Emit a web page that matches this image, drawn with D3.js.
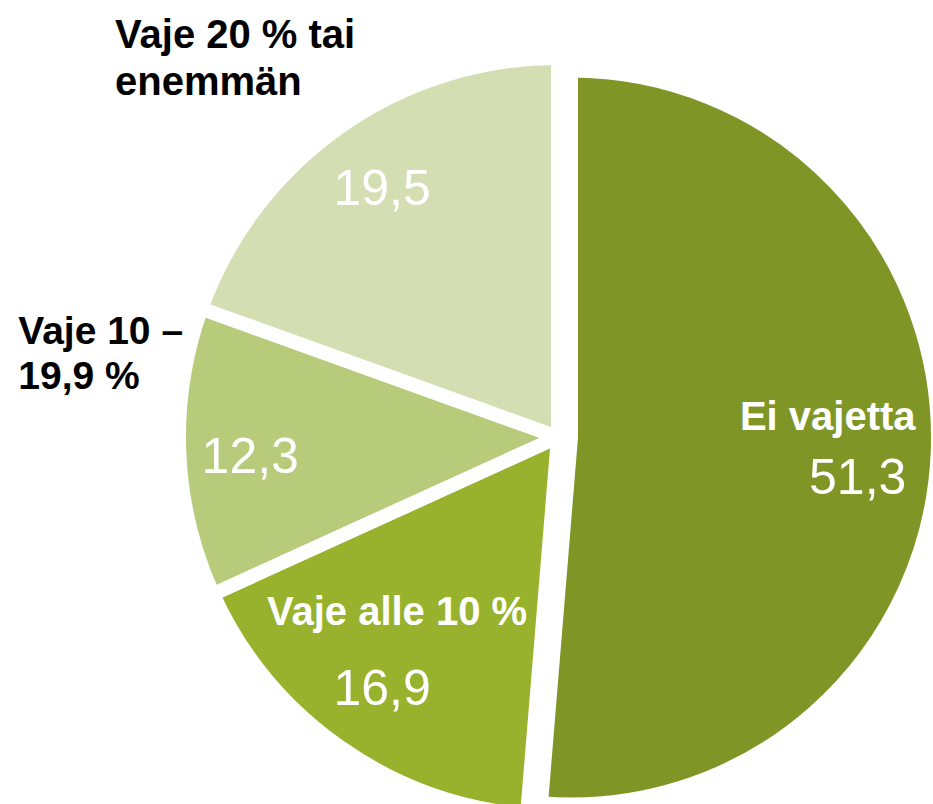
<!DOCTYPE html>
<html>
<head>
<meta charset="utf-8">
<script src="https://cdn.jsdelivr.net/npm/d3@7/dist/d3.min.js"></script>
<style>
  body { margin: 0; background: #fff; }
  text { font-family: "Liberation Sans", Arial, sans-serif; }
</style>
</head>
<body>
<svg width="933" height="804"></svg>
<script>
// data
const categories = ['Ei vajetta', 'Vaje alle 10 %', 'Vaje 10 –\n19,9 %', 'Vaje 20 % tai\nenemmän'];
const values = [51.3, 16.9, 12.3, 19.5];
const colors = ['#7f9627', '#99b22d', '#b8cb7a', '#d3deb2'];

const svg = d3.select('svg');
const width = +svg.attr('width');
const height = +svg.attr('height');

const cx = 558;
const cy = 437;
const radius = 379;
const bigRadius = 367;   // the exploded slice is drawn a bit smaller
const explode = 13;
const labelR = 306;

// label tweaks, relative to the label centroid
const numOffsets = [[-19, 26], [0, 0], [-2, 5], [0, 0]];
const nameOffsets = [[-30, -60], [15, -77], [-232, -125], [-267, -153]];
const nameSizes = [40, 40, 39, 40];
const nameInside = [true, true, false, false];

const fmt = v => d3.format('.1f')(v).replace('.', ',');

const pie = d3.pie().sort(null).value(d => d);
const arcs = pie(values);

const arc = d3.arc().innerRadius(0);
const labelArc = d3.arc().innerRadius(labelR).outerRadius(labelR);

const g = svg.append('g')
    .attr('transform', `translate(${cx}, ${cy})`);

const shift = (d, i) => {
  if (i !== 0) return [0, 0];
  const a = (d.startAngle + d.endAngle) / 2;
  return [explode * Math.sin(a), -explode * Math.cos(a)];
};

const slices = g.selectAll('g.slice')
  .data(arcs)
  .join('g')
    .attr('class', 'slice')
    .attr('transform', (d, i) => `translate(${shift(d, i)})`);

slices.append('path')
    .attr('d', (d, i) => arc.outerRadius(i === 0 ? bigRadius : radius)(d))
    .attr('fill', (d, i) => colors[i])
    .attr('stroke', '#fff')
    .attr('stroke-width', 14)
    .attr('stroke-linejoin', 'miter');

// value labels
slices.append('text')
    .attr('x', (d, i) => labelArc.centroid(d)[0] + numOffsets[i][0])
    .attr('y', (d, i) => labelArc.centroid(d)[1] + numOffsets[i][1])
    .attr('dy', '0.36em')
    .attr('text-anchor', 'middle')
    .attr('fill', '#fff')
    .attr('font-size', 50)
    .text(d => fmt(d.data));

// category labels
slices.each(function (d, i) {
  const c = labelArc.centroid(d);
  const x = c[0] + numOffsets[i][0] + nameOffsets[i][0];
  const y = c[1] + numOffsets[i][1] + nameOffsets[i][1];
  const t = d3.select(this).append('text')
      .attr('x', x)
      .attr('y', y)
      .attr('text-anchor', nameInside[i] ? 'middle' : 'start')
      .attr('fill', nameInside[i] ? '#fff' : '#000')
      .attr('font-size', nameSizes[i])
      .attr('font-weight', 'bold');
  categories[i].split('\n').forEach((line, k) => {
    t.append('tspan')
        .attr('x', x)
        .attr('dy', k === 0 ? '0.36em' : '1.17em')
        .text(line);
  });
});
</script>
</body>
</html>
